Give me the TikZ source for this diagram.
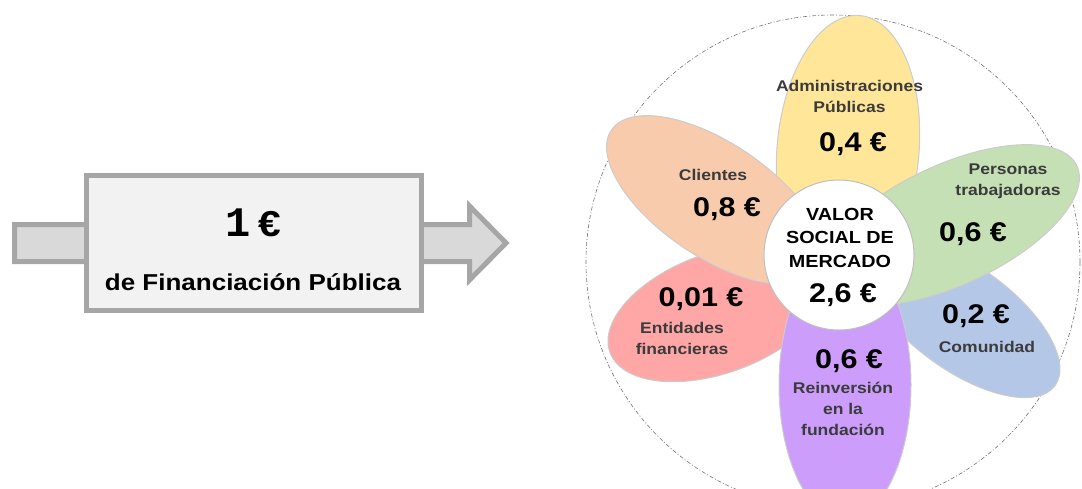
\documentclass[tikz,border=0pt]{standalone}
\usepackage{fontspec}
\setmainfont[FakeStretch=1.13]{Liberation Sans}
\newfontfamily\monofont{Liberation Mono}
\usetikzlibrary{shapes.geometric}
\definecolor{finfill}{HTML}{F2F2F2}
\definecolor{finborder}{HTML}{A6A6A6}
\definecolor{arrowfill}{HTML}{D9D9D9}
\definecolor{labelgray}{HTML}{3B3B3B}
\definecolor{petyellow}{HTML}{FFE699}
\definecolor{petorange}{HTML}{F8CBAD}
\definecolor{petgreen}{HTML}{C5E0B4}
\definecolor{petblue}{HTML}{B4C7E7}
\definecolor{petpurple}{HTML}{CC9DFB}
\definecolor{petred}{HTML}{FFA6A6}

\begin{document}
\begin{tikzpicture}[
    x=1pt, y=-1pt,
    petal/.style={ellipse, draw=black!20, line width=1pt, inner sep=0pt},
    lbl/.style={font=\fontsize{15.5}{21}\selectfont\bfseries, text=labelgray, align=center, anchor=base},
    amount/.style={font=\fontsize{27}{32}\selectfont\bfseries, anchor=base},
    core/.style={font=\fontsize{17.5}{23.5}\selectfont\bfseries, align=center, anchor=base},
]
\useasboundingbox (0,0) rectangle (1082,488);

% input: public funding
\draw[line width=5pt, draw=finborder, fill=arrowfill, line join=miter]
    (14.5,224.5) -- (469.5,224.5) -- (469.5,206) -- (506,243)
    -- (469.5,280) -- (469.5,261.5) -- (14.5,261.5) -- cycle;
\node[draw=finborder, line width=5pt, fill=finfill, minimum width=335pt, minimum height=135pt] (fin) at (253.5,242.5) {};
\node[anchor=base] (one) at (253,236)
    {{\monofont\bfseries\fontsize{42}{42}\selectfont 1}\hspace{8pt}{\bfseries\fontsize{36}{36}\selectfont €}};
\node[anchor=base, font=\fontsize{23}{28}\selectfont\bfseries] (finlabel) at (253,290) {de Financiación Pública};

% flower
\node[circle, draw=black!55, line width=0.6pt, dash pattern=on 4pt off 2pt on 1pt off 2pt, minimum size=494pt] (ring) at (833,262) {};

\node[petal, fill=petred, minimum width=230pt, minimum height=120pt, rotate=20] (red) at (718,313) {};
\node[petal, fill=petblue, minimum width=230pt, minimum height=104pt, rotate=-36] (blue) at (962,318) {};
\node[petal, fill=petpurple, minimum width=270pt, minimum height=132pt, rotate=90] (purple) at (845,385) {};
\node[petal, fill=petyellow, minimum width=270pt, minimum height=142pt, rotate=85] (yellow) at (848,150) {};
\node[petal, fill=petorange, minimum width=250pt, minimum height=114pt, rotate=-34] (orange) at (715,200) {};
\node[petal, fill=petgreen, minimum width=280pt, minimum height=120pt, rotate=25] (green) at (950,225) {};

\node[circle, fill=white, draw=black!25, line width=1pt, minimum size=150pt] (hub) at (839,255) {};

% texts (base = last line)
\node[lbl] (adm) at (849.5,112) {Administraciones\\Públicas};
\node[amount] (admv) at (853,151) {0,4 €};
\node[lbl] (cli) at (713,180) {Clientes};
\node[amount] (cliv) at (727,216) {0,8 €};
\node[lbl] (per) at (1008,195) {Personas\\trabajadoras};
\node[amount] (perv) at (973,241) {0,6 €};
\node[core] (hubt) at (840,267) {VALOR\\SOCIAL DE\\MERCADO};
\node[amount] (hubv) at (843,302) {2,6 €};
\node[amount] (entv) at (701,306) {0,01 €};
\node[lbl] (ent) at (682,354) {Entidades\\financieras};
\node[amount] (reiv) at (849,368) {0,6 €};
\node[lbl] (rei) at (843,435) {Reinversión\\en la\\fundación};
\node[amount] (comv) at (976,323) {0,2 €};
\node[lbl] (com) at (987,352) {Comunidad};
\end{tikzpicture}
\end{document}
